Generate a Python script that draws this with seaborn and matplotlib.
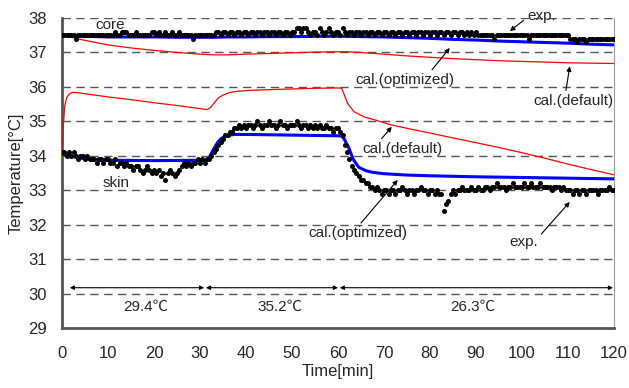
import numpy as np
import pandas as pd
import matplotlib
matplotlib.use("Agg")
import matplotlib.pyplot as plt
import seaborn as sns

# measured data, every 0.5 min from 0 to 120
exp_time = [i * 0.5 for i in range(241)]

core_exp = [
    37.5, 37.5, 37.5, 37.5, 37.5, 37.5, 37.4, 37.5, 37.5, 37.5, 37.5, 37.5, 37.5, 37.5, 37.5, 37.5, 37.5, 37.5, 37.5, 37.5,
    37.5, 37.5, 37.5, 37.6, 37.5, 37.5, 37.6, 37.6, 37.6, 37.5, 37.5, 37.5, 37.6, 37.5, 37.5, 37.5, 37.5, 37.5, 37.5, 37.6,
    37.6, 37.5, 37.6, 37.5, 37.5, 37.6, 37.5, 37.5, 37.6, 37.5, 37.5, 37.6, 37.5, 37.5, 37.5, 37.5, 37.5, 37.4, 37.5, 37.5,
    37.5, 37.5, 37.5, 37.5, 37.5, 37.5, 37.5, 37.6, 37.6, 37.5, 37.6, 37.6, 37.5, 37.6, 37.6, 37.5, 37.6, 37.6, 37.5, 37.6,
    37.6, 37.5, 37.6, 37.6, 37.5, 37.6, 37.6, 37.5, 37.6, 37.6, 37.5, 37.6, 37.6, 37.5, 37.6, 37.6, 37.5, 37.6, 37.6, 37.5,
    37.6, 37.6, 37.7, 37.7, 37.6, 37.7, 37.7, 37.6, 37.5, 37.6, 37.6, 37.5, 37.7, 37.6, 37.5, 37.6, 37.7, 37.6, 37.5, 37.6,
    37.6, 37.5, 37.7, 37.6, 37.5, 37.6, 37.6, 37.5, 37.6, 37.6, 37.5, 37.6, 37.6, 37.5, 37.6, 37.6, 37.5, 37.6, 37.6, 37.5,
    37.6, 37.6, 37.5, 37.6, 37.6, 37.5, 37.6, 37.6, 37.5, 37.6, 37.6, 37.5, 37.6, 37.6, 37.5, 37.6, 37.6, 37.5, 37.6, 37.6,
    37.5, 37.6, 37.6, 37.5, 37.6, 37.6, 37.5, 37.6, 37.6, 37.5, 37.6, 37.6, 37.5, 37.6, 37.6, 37.5, 37.6, 37.5, 37.6, 37.5,
    37.6, 37.5, 37.5, 37.5, 37.5, 37.5, 37.5, 37.5, 37.4, 37.5, 37.5, 37.5, 37.5, 37.5, 37.5, 37.5, 37.5, 37.5, 37.5, 37.5,
    37.5, 37.5, 37.5, 37.4, 37.5, 37.5, 37.5, 37.5, 37.5, 37.5, 37.5, 37.5, 37.5, 37.5, 37.5, 37.5, 37.5, 37.5, 37.5, 37.5,
    37.5, 37.4, 37.4, 37.4, 37.3, 37.4, 37.4, 37.4, 37.3, 37.4, 37.4, 37.4, 37.4, 37.4, 37.4, 37.4, 37.4, 37.4, 37.4, 37.4,
    37.4,
]

skin_exp = [
    34.1, 34.1, 34.0, 34.1, 34.0, 34.1, 34.0, 33.9, 34.0, 34.0, 33.9, 34.0, 33.9, 33.9, 33.9, 33.8, 33.9, 33.9, 33.8, 33.9,
    33.9, 33.8, 33.8, 33.9, 33.7, 33.8, 33.8, 33.7, 33.8, 33.7, 33.7, 33.6, 33.7, 33.7, 33.6, 33.5, 33.6, 33.7, 33.6, 33.5,
    33.6, 33.5, 33.6, 33.4, 33.5, 33.3, 33.5, 33.6, 33.5, 33.4, 33.5, 33.6, 33.7, 33.8, 33.7, 33.8, 33.7, 33.8, 33.8, 33.9,
    33.8, 33.9, 33.8, 33.9, 33.9, 34.0, 34.1, 34.2, 34.3, 34.4, 34.5, 34.6, 34.6, 34.7, 34.7, 34.8, 34.8, 34.9, 34.8, 34.9,
    34.8, 34.9, 34.9, 34.8, 34.9, 35.0, 34.9, 34.8, 34.9, 34.9, 35.0, 34.9, 34.9, 34.8, 34.9, 35.0, 34.9, 34.9, 34.8, 34.9,
    34.9, 34.9, 35.0, 34.9, 34.8, 34.9, 34.9, 34.8, 34.9, 34.8, 34.9, 34.8, 34.9, 34.8, 34.8, 34.9, 34.8, 34.8, 34.7, 34.8,
    34.8, 34.7, 34.6, 34.3, 34.1, 33.9, 33.7, 33.6, 33.5, 33.4, 33.3, 33.3, 33.2, 33.2, 33.1, 33.1, 33.0, 33.1, 33.0, 32.9,
    33.0, 33.0, 32.9, 33.0, 33.0, 32.9, 33.0, 33.0, 33.1, 33.0, 32.9, 33.0, 33.0, 32.9, 33.0, 33.0, 33.1, 33.0, 33.0, 32.9,
    33.0, 33.0, 32.9, 33.0, 32.9, 32.9, 32.4, 32.6, 32.7, 32.9, 33.0, 32.9, 33.0, 33.0, 33.1, 33.0, 33.0, 33.0, 33.1, 33.0,
    33.0, 33.1, 33.0, 33.0, 33.1, 33.1, 33.0, 33.1, 33.1, 33.2, 33.1, 33.1, 33.1, 33.0, 33.1, 33.1, 33.2, 33.1, 33.1, 33.1,
    33.1, 33.2, 33.1, 33.1, 33.2, 33.1, 33.1, 33.1, 33.2, 33.1, 33.1, 33.1, 33.1, 33.0, 33.1, 33.1, 33.1, 33.0, 33.1, 33.0,
    33.0, 33.0, 32.9, 33.0, 33.0, 32.9, 33.0, 33.0, 32.9, 33.0, 33.0, 33.0, 33.0, 32.9, 33.0, 33.0, 33.0, 33.0, 33.1, 33.0,
    33.0,
]

# calculated curves
core_time = [0, 5, 10, 15, 20, 25, 30, 33, 36, 40, 45, 50, 55, 60, 62, 65, 70, 75, 80, 85, 90, 95, 100, 105, 110, 115, 120]
core_default = [37.5, 37.35, 37.22, 37.13, 37.06, 37.0, 36.95, 36.93, 36.93, 36.95, 36.97, 36.99, 37.01, 37.02, 37.02,
                37.0, 36.95, 36.9, 36.86, 36.82, 36.79, 36.76, 36.74, 36.72, 36.7, 36.69, 36.68]
core_opt = [37.5, 37.47, 37.45, 37.45, 37.45, 37.44, 37.44, 37.44, 37.45, 37.45, 37.46, 37.46, 37.47, 37.47, 37.47,
            37.46, 37.45, 37.43, 37.41, 37.38, 37.36, 37.33, 37.31, 37.29, 37.27, 37.24, 37.22]

skin_default_time = [0, 0.3, 0.6, 1.0, 1.5, 2.2, 3.0, 5, 10, 15, 20, 25, 30, 31.5, 32.3, 33, 34, 35, 36.5, 38,
                     41, 45, 50, 55, 60, 60.8, 61.3, 62.1, 63.5, 65.7, 68.6, 71.5, 75, 80, 85, 90, 95, 100, 105, 110,
                     115, 120]
skin_default = [34.1, 34.9, 35.45, 35.68, 35.78, 35.84, 35.84, 35.8, 35.71, 35.63, 35.54, 35.46, 35.37, 35.34, 35.4,
                35.52, 35.68, 35.76, 35.84, 35.87, 35.9, 35.92, 35.94, 35.96, 35.97, 35.96, 35.8, 35.52, 35.28, 35.13,
                35.02, 34.9, 34.8, 34.66, 34.52, 34.38, 34.24, 34.09, 33.93, 33.76, 33.6, 33.45]

skin_opt_time = [0, 1.5, 3.5, 6, 11, 20, 31, 31.8, 32.4, 33.2, 33.9, 34.6, 35.4, 36.5, 37.5, 40, 50, 60, 60.8, 61.3,
                 62.3, 63.3, 64.5, 66, 67.5, 70, 75, 80, 90, 100, 110, 120]
skin_opt = [34.05, 34.01, 33.94, 33.9, 33.87, 33.86, 33.87, 33.9, 34.05, 34.25, 34.4, 34.5, 34.56, 34.6, 34.62, 34.62,
            34.6, 34.58, 34.57, 34.5, 34.25, 33.9, 33.67, 33.57, 33.52, 33.48, 33.44, 33.42, 33.39, 33.37, 33.35, 33.33]

# ambient temperature periods
period_edges = [(1.7, 30.9), (31.3, 60.0), (60.4, 119.8)]
period_labels = ["29.4℃", "35.2℃", "26.3℃"]
period_label_x = [18.2, 47.4, 89.4]

sns.set_style("white")
plt.rcParams["font.family"] = ["Liberation Sans", "Noto Sans CJK JP", "DejaVu Sans"]

fig, ax = plt.subplots(figsize=(6.29, 3.88), dpi=100)
fig.subplots_adjust(left=0.0986, right=0.976, top=0.9536, bottom=0.1546)

exp_df = pd.DataFrame({"time": exp_time, "core": core_exp, "skin": skin_exp})

sns.lineplot(x=core_time, y=core_default, color="#ff0000", lw=0.9, ax=ax, zorder=3)
sns.lineplot(x=skin_default_time, y=skin_default, color="#ff0000", lw=0.9, ax=ax, zorder=3)
sns.lineplot(x=core_time, y=core_opt, color="#0000ff", lw=2.2, ax=ax, zorder=3)
sns.lineplot(x=skin_opt_time, y=skin_opt, color="#0000ff", lw=2.2, ax=ax, zorder=3)
for col in ["core", "skin"]:
    sns.scatterplot(data=exp_df, x="time", y=col, color="black", s=13, linewidth=0, ax=ax, zorder=4)

ax.set_xlim(0, 120)
ax.set_ylim(29, 38)
ax.set_xticks(range(0, 121, 10))
ax.set_yticks(range(29, 39))
for yv in range(30, 39):
    ax.axhline(yv, color="#555555", lw=1.0, dashes=(6, 4), zorder=1)

ax.spines["top"].set_visible(False)
ax.spines["right"].set_color("#999999")
ax.spines["right"].set_linewidth(0.8)
for s in ["left", "bottom"]:
    ax.spines[s].set_color("#555555")
    ax.spines[s].set_linewidth(2.0)
ax.tick_params(axis="x", direction="in", length=5, width=1, color="#555555", labelsize=12, pad=13)
ax.tick_params(axis="y", length=0, labelsize=12, pad=11)
ax.set_xlabel("Time[min]", fontsize=12, labelpad=2)
ax.set_ylabel("Temperature[°C]", fontsize=12, labelpad=3)

fs = 11
ax.text(10.5, 37.8, "core", fontsize=fs, ha="center", va="center")
ax.text(11.8, 33.2, "skin", fontsize=fs, ha="center", va="center")

arrow = dict(arrowstyle="-|>", color="black", lw=0.8, mutation_scale=7, shrinkA=0, shrinkB=0)
ax.annotate("exp.", xy=(97.4, 37.62), xytext=(104.2, 38.05), fontsize=fs, ha="center", va="center",
            arrowprops=dict(arrow, relpos=(0.0, 0.4)), annotation_clip=False)
ax.annotate("cal.(optimized)", xy=(84.3, 37.13), xytext=(74.5, 36.2), fontsize=fs, ha="center", va="center",
            arrowprops=dict(arrow, relpos=(0.75, 1.0)))
ax.annotate("cal.(default)", xy=(110.4, 36.6), xytext=(111.2, 35.6), fontsize=fs, ha="center", va="center",
            arrowprops=dict(arrow, relpos=(0.4, 1.0)))
ax.annotate("cal.(default)", xy=(71.7, 34.84), xytext=(74.1, 34.2), fontsize=fs, ha="center", va="center",
            arrowprops=dict(arrow, relpos=(0.2, 1.0)))
ax.annotate("cal.(optimized)", xy=(73.0, 33.3), xytext=(64.4, 31.75), fontsize=fs, ha="center", va="center",
            arrowprops=dict(arrow, relpos=(0.5, 1.0)))
ax.annotate("exp.", xy=(110.4, 32.66), xytext=(100.4, 31.5), fontsize=fs, ha="center", va="center",
            arrowprops=dict(arrow, relpos=(1.0, 0.8)))

for (x0, x1), lab, lx in zip(period_edges, period_labels, period_label_x):
    ax.annotate("", xy=(x1, 30.17), xytext=(x0, 30.17),
                arrowprops=dict(arrowstyle="<|-|>", color="black", lw=0.8, mutation_scale=6,
                                shrinkA=0, shrinkB=0))
    ax.text(lx, 29.62, lab, fontsize=fs, ha="center", va="center")

fig.savefig("out.png", dpi=100)
